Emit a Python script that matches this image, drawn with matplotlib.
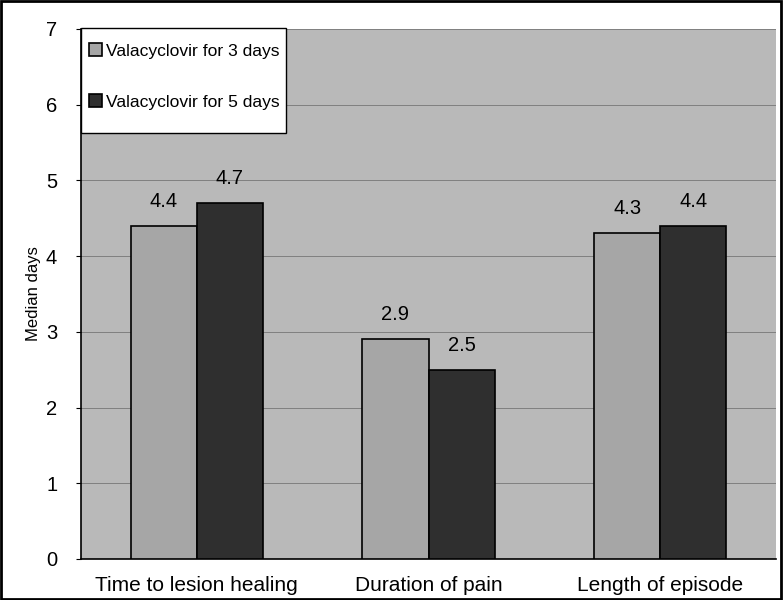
import matplotlib
matplotlib.use("Agg")
import matplotlib.pyplot as plt
import numpy as np

categories = ["Time to lesion healing", "Duration of pain", "Length of episode"]
series_names = ["Valacyclovir for 3 days", "Valacyclovir for 5 days"]
vals_3d = [4.4, 2.9, 4.3]
vals_5d = [4.7, 2.5, 4.4]
yticks = [0, 1, 2, 3, 4, 5, 6, 7]

plt.rcParams['font.family'] = ['Liberation Sans', 'DejaVu Sans']

fig = plt.figure(figsize=(7.83, 6.0), dpi=100)
fig.patch.set_facecolor('white')
ax = fig.add_axes([81/783, 1-559/600, 695/783, 530/600])
ax.set_facecolor('#b9b9b9')

x = np.arange(len(categories))
w = 0.285
b1 = ax.bar(x - w/2, vals_3d, w, color='#a6a6a6', edgecolor='black', linewidth=1.2, label=series_names[0], zorder=3)
b2 = ax.bar(x + w/2, vals_5d, w, color='#2f2f2f', edgecolor='black', linewidth=1.2, label=series_names[1], zorder=3)

for bars, vals in ((b1, vals_3d), (b2, vals_5d)):
    for r, v in zip(bars, vals):
        ax.text(r.get_x() + r.get_width()/2, v + 0.2, f"{v}", ha='center', va='bottom', fontsize=14.5, zorder=4)

ax.set_xlim(-0.5, 2.5)
ax.set_ylim(0, 7)
ax.set_yticks(yticks)
ax.set_yticklabels([str(t) for t in yticks], fontsize=14.5)
ax.set_xticks(x)
ax.set_xticklabels(categories, fontsize=15)
ax.tick_params(axis='x', length=0, pad=12)
ax.tick_params(axis='y', length=3.6, pad=13.5)
ax.yaxis.grid(True, color='#808080', linewidth=0.7, zorder=1)
ax.set_axisbelow(True)
for s in ['top', 'right']:
    ax.spines[s].set_visible(False)
for s in ['left', 'bottom']:
    ax.spines[s].set_linewidth(1.2)
ax.set_ylabel("Median days", fontsize=12)
ax.yaxis.set_label_coords(-0.058, 0.5)

# legend frame drawn separately to match the reference proportions
frame = plt.Rectangle((0.0, (559-133)/530), (286-81)/695, (133-28)/530, transform=ax.transAxes,
                      facecolor='white', edgecolor='black', linewidth=1.0, zorder=5, clip_on=False)
ax.add_patch(frame)
leg = ax.legend(loc='upper left', bbox_to_anchor=((89-81)/695, (559-43)/530), frameon=False,
                fontsize=12.6, handlelength=0.75, handleheight=0.75, handletextpad=0.25,
                labelspacing=2.05, borderpad=0.0, borderaxespad=0.0)
leg.set_zorder(6)

border = plt.Rectangle((0.001, 0.001), 0.997, 0.997, transform=fig.transFigure, fill=False,
                       edgecolor='black', linewidth=2)
fig.patches.append(border)

fig.savefig("out.png", dpi=100)
